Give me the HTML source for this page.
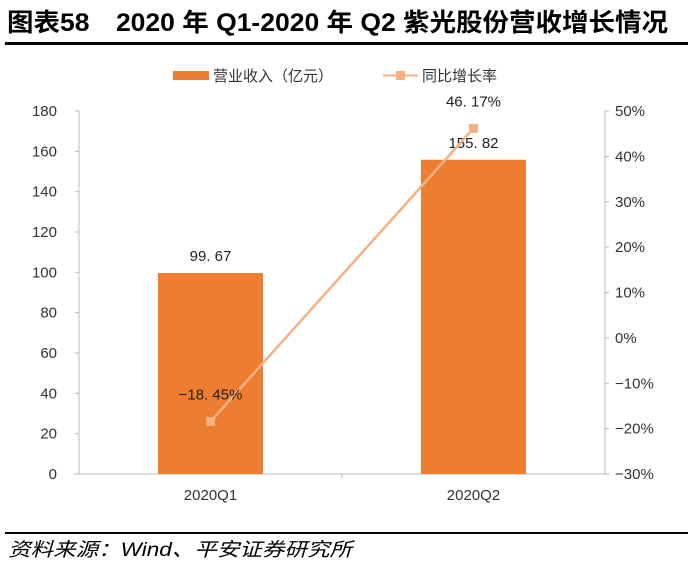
<!DOCTYPE html>
<html><head><meta charset="utf-8"><style>
body{margin:0;background:#fff;width:693px;height:562px;overflow:hidden;font-family:"Liberation Sans","Noto Sans CJK SC",sans-serif}
</style></head><body>
<svg width="693" height="562" xmlns="http://www.w3.org/2000/svg" font-family="Liberation Sans, Noto Sans CJK SC, sans-serif">
<text x="7" y="31" font-size="25" font-weight="bold" fill="#000" textLength="661" lengthAdjust="spacingAndGlyphs">图表58　2020 年 Q1-2020 年 Q2 紫光股份营收增长情况</text>
<rect x="5" y="42" width="683" height="3" fill="#000"/>
<g>
<rect x="173" y="71" width="36" height="9" fill="#ED7D31"/>
<text x="213" y="81" font-size="15" fill="#333">营业收入（亿元）</text>
<line x1="383" y1="75.5" x2="418" y2="75.5" stroke="#F4B183" stroke-width="2"/>
<rect x="396" y="71" width="9" height="9" fill="#F4B183"/>
<text x="422" y="81" font-size="15" fill="#333">同比增长率</text>
</g>
<g id="axes"></g>
<g id="marks"></g>
<line x1="5" y1="533" x2="688" y2="533" stroke="#000" stroke-width="2"/>
<text x="8" y="556" font-size="19" font-style="italic" fill="#000" textLength="344" lengthAdjust="spacingAndGlyphs">资料来源：Wind、平安证券研究所</text>
</svg>
<script>
const categories=["2020Q1","2020Q2"];
const revenue=[99.67,155.82];
const growth=[-18.45,46.17];
const leftTicks=[0,20,40,60,80,100,120,140,160,180];
const rightTicks=[-30,-20,-10,0,10,20,30,40,50];
const NS="http://www.w3.org/2000/svg";
const X0=79,X1=605,Y0=474,Y1=111;
const yL=v=>Y0-(v/180)*(Y0-Y1);
const yR=v=>Y0-((v+30)/80)*(Y0-Y1);
const band=(X1-X0)/categories.length;
const xC=i=>X0+band*(i+0.5);
function mk(t,a,p){const e=document.createElementNS(NS,t);for(const k in a)e.setAttribute(k,a[k]);p.appendChild(e);return e;}
const ax=document.getElementById('axes'),mg=document.getElementById('marks');
const la=mk('line',{x1:X0,y1:Y1,x2:X0,y2:Y0,stroke:'#bbb'},ax);


const ra=mk('line',{x1:X1,y1:Y1,x2:X1,y2:Y0,stroke:'#bbb'},ax);


const xa=mk('line',{x1:X0-5,y1:Y0,x2:X1+5,y2:Y0,stroke:'#bbb'},ax);


leftTicks.forEach(v=>{const y=yL(v);mk('line',{x1:X0-4,y1:y,x2:X0,y2:y,stroke:'#bbb'},ax);
const t=mk('text',{x:X0-22,y:y+5,'font-size':15,'text-anchor':'end',fill:'#333'},ax);t.textContent=v;

});
rightTicks.forEach(v=>{const y=yR(v);mk('line',{x1:X1,y1:y,x2:X1+4,y2:y,stroke:'#bbb'},ax);
const t=mk('text',{x:X1+10,y:y+5,'font-size':15,fill:'#333'},ax);t.textContent=(v<0?'−':'')+Math.abs(v)+'%';

});
mk('line',{x1:X0+band,y1:Y0,x2:X0+band,y2:Y0+5,stroke:'#bbb'},ax);
categories.forEach((c,i)=>{const t=mk('text',{x:xC(i),y:Y0+26,'font-size':15,'text-anchor':'middle',fill:'#333'},ax);t.textContent=c;

});
const bw=105;
revenue.forEach((v,i)=>{const r=mk('rect',{x:xC(i)-bw/2,y:yL(v),width:bw,height:Y0-yL(v),fill:'#ED7D31'},mg);


const t=mk('text',{x:xC(i),y:yL(v)-12,'font-size':15,'text-anchor':'middle',fill:'#222'},mg);t.textContent=v.toFixed(2).replace('.', '. ');

});
const pl=mk('polyline',{points:growth.map((v,i)=>xC(i)+','+yR(v)).join(' '),fill:'none',stroke:'#F4B183','stroke-width':2.5},mg);


growth.forEach((v,i)=>{const r=mk('rect',{x:xC(i)-4.5,y:yR(v)-4.5,width:9,height:9,fill:'#F4B183'},mg);


const t=mk('text',{x:xC(i),y:yR(v)-22,'font-size':15,'text-anchor':'middle',fill:'#222'},mg);
t.textContent=(v<0?'−':'')+Math.abs(v).toFixed(2).replace('.', '. ')+'%';

});
</script>
</body></html>
